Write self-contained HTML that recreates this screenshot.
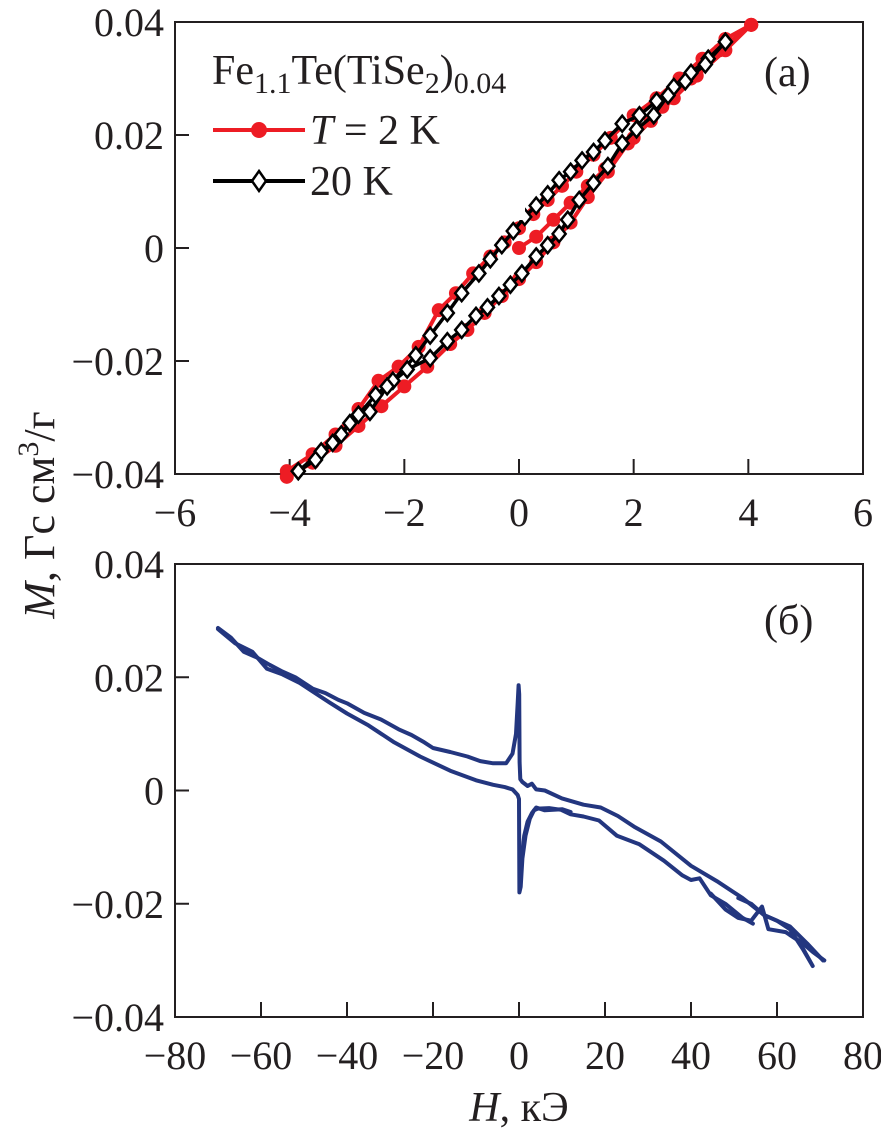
<!DOCTYPE html>
<html><head><meta charset="utf-8"><style>
html,body{margin:0;padding:0;background:#fff;}
svg{display:block;font-family:"Liberation Serif",serif;}
</style></head><body>
<svg id="chart" width="881" height="1132" viewBox="0 0 881 1132" xmlns="http://www.w3.org/2000/svg"></svg>
<script>
// ---- Panel (a) data ----
const aTicksX = [-6,-4,-2,0,2,4,6];
const aTicksY = [-0.04,-0.02,0,0.02,0.04];
const aTickLabelsY = ["\u22120.04","\u22120.02","0","0.02","0.04"];
const aTickLabelsX = ["\u22126","\u22124","\u22122","0","2","4","6"];
// 20 K descending branch (H from 4 to -4)
const h20Down = [3.6,3.3,3.0,2.7,2.4,2.1,1.8,1.5,1.3,1.1,0.9,0.7,0.5,0.3,0.1,-0.1,-0.3,-0.5,-0.7,-1.0,-1.25,-1.55,-1.8,-2.2,-2.5,-2.8,-3.1,-3.45,-3.85];
const m20Down = [0.0365,0.0335,0.031,0.0285,0.026,0.0235,0.022,0.019,0.017,0.0155,0.0135,0.012,0.0095,0.0075,0.0055,0.003,0.0005,-0.002,-0.0045,-0.008,-0.0115,-0.0155,-0.019,-0.0235,-0.026,-0.0295,-0.033,-0.036,-0.0395];
// 20 K ascending branch (H from -4 to 4)
const h20Up = [-3.85,-3.55,-3.25,-2.95,-2.6,-2.3,-1.95,-1.55,-1.25,-1.0,-0.75,-0.55,-0.35,-0.15,0.05,0.3,0.5,0.7,0.85,1.05,1.3,1.55,1.8,2.05,2.35,2.6,2.9,3.25,3.6];
const m20Up = [-0.0395,-0.0375,-0.0345,-0.031,-0.029,-0.0245,-0.0215,-0.0195,-0.0165,-0.0145,-0.012,-0.0105,-0.0085,-0.0065,-0.0045,-0.0015,0.0005,0.0025,0.005,0.0085,0.0115,0.0145,0.0185,0.021,0.0235,0.027,0.0295,0.0325,0.0365];
// 2 K
const h2Virgin = [0,0.3,0.6,0.9,1.2,1.5,2.0,2.5,3.0,3.5,4.05];
const m2Virgin = [0,0.002,0.005,0.008,0.011,0.014,0.0195,0.025,0.030,0.035,0.0395];
const h2Down = [4.05,3.6,3.2,2.8,2.4,2.0,1.6,1.3,1.0,0.75,0.5,0.25,0,-0.25,-0.5,-0.8,-1.1,-1.4,-1.75,-2.1,-2.45,-2.8,-3.2,-3.6,-4.05];
const m2Down = [0.0395,0.037,0.0335,0.030,0.0265,0.0235,0.0195,0.0165,0.0135,0.011,0.0085,0.006,0.0035,0.001,-0.0015,-0.0045,-0.008,-0.011,-0.0175,-0.021,-0.0235,-0.0285,-0.033,-0.0365,-0.0395];
const h2Up = [-4.05,-3.6,-3.2,-2.8,-2.4,-2.0,-1.6,-1.2,-0.9,-0.6,-0.3,0,0.3,0.6,0.9,1.2,1.55,1.9,2.3,2.7,3.1,3.6,4.05];
const m2Up = [-0.0405,-0.038,-0.035,-0.0315,-0.028,-0.0245,-0.021,-0.017,-0.0145,-0.0115,-0.0085,-0.0055,-0.0025,0.001,0.0045,0.009,0.0135,0.0185,0.0225,0.0265,0.0305,0.035,0.0395];

// ---- Panel (b) data ----
const bTicksX = [-80,-60,-40,-20,0,20,40,60,80];
const bTickLabelsX = ["\u221280","\u221260","\u221240","\u221220","0","20","40","60","80"];
const bTicksY = [-0.04,-0.02,0,0.02,0.04];
const bTickLabelsY = ["\u22120.04","\u22120.02","0","0.02","0.04"];
const bHA = [-70,-67,-64,-61,-58,-55,-52,-48,-45,-42,-40,-36,-32,-28,-25,-22,-20,-16,-12,-9,-6,-3,-1.5,-0.7,-0.3,-0.1,0.05,0.15,0.3,0.8,2,3,4,6,10,15,19,23,27,33,40,46,52,57,63,67,70.7];
const bMA = [0.0287,0.027,0.0245,0.0235,0.0222,0.021,0.020,0.018,0.0172,0.016,0.0154,0.0137,0.0125,0.0108,0.0098,0.0085,0.0075,0.0068,0.006,0.0052,0.0048,0.0048,0.0065,0.010,0.0155,0.0186,0.017,0.005,0.002,0.0015,0.0008,0.0012,0.0002,0,-0.0014,-0.0025,-0.003,-0.0045,-0.0065,-0.009,-0.0133,-0.016,-0.019,-0.022,-0.024,-0.027,-0.030];
const bHB = [-70,-66,-62,-58.6,-55,-51,-48,-44,-40,-35,-29,-23,-16,-10,-6,-3.3,-1.5,-0.3,0,0.1,0.4,0.8,1.5,2.5,3.5,4.4,7,9.8,12,15,18.6,22.8,28,33.7,38,40,42,44.6,48,52,54.4];
const bMB = [0.0285,0.026,0.0245,0.0215,0.0205,0.019,0.0175,0.0155,0.0136,0.0115,0.0085,0.006,0.0035,0.0018,0.001,0.0006,0.0002,-0.0008,-0.0015,-0.018,-0.017,-0.012,-0.008,-0.005,-0.0035,-0.0032,-0.0031,-0.0034,-0.0042,-0.0046,-0.0053,-0.008,-0.0095,-0.0124,-0.015,-0.0158,-0.0155,-0.0185,-0.020,-0.0225,-0.0235];
const bHC = [0.2,0.6,1.2,2,3,4,6,8,10,12];
const bMC = [-0.0145,-0.012,-0.008,-0.0055,-0.004,-0.003,-0.0035,-0.0034,-0.0033,-0.0038];
const bHD = [44.6,48,51,54,56.5,58,62,65,68.3,66,63,60,57,54,51];
const bMD = [-0.0182,-0.021,-0.0225,-0.023,-0.0205,-0.0245,-0.025,-0.0265,-0.031,-0.028,-0.0245,-0.023,-0.022,-0.020,-0.019];
const bHE = [63,66,68.3,71];
const bME = [-0.0255,-0.027,-0.0285,-0.030];

const NS = "http://www.w3.org/2000/svg";
const svg = document.getElementById('chart');
function mk(tag, attrs, parent){
  const e = document.createElementNS(NS, tag);
  for (const k in attrs) e.setAttribute(k, attrs[k]);
  (parent||svg).appendChild(e);
  return e;
}
const L = 175, R = 863;
const A = {top:22, bot:474, xmin:-6, xmax:6, ymin:-0.04, ymax:0.04};
const B = {top:564, bot:1017, xmin:-80, xmax:80, ymin:-0.04, ymax:0.04};
function sx(p, v){ return L + (v - p.xmin)/(p.xmax-p.xmin)*(R-L); }
function sy(p, v){ return p.bot - (v - p.ymin)/(p.ymax-p.ymin)*(p.bot-p.top); }

function drawAxes(p, tx, txl, ty, tyl, name){
  const g = mk('g', {});
  
  
  const frame = mk('rect', {x:L, y:p.top, width:R-L, height:p.bot-p.top, fill:'none', stroke:'#231f20', 'stroke-width':2}, g);
  
  
  tx.forEach((v,i)=>{
    const x = sx(p,v);
    const t = mk('line', {x1:x, x2:x, y1:p.bot, y2:p.bot-15, stroke:'#231f20', 'stroke-width':2}, g);
    
    
    const lb = mk('text', {x:x, y:p.bot+52, 'font-size':40, 'text-anchor':'middle', fill:'#231f20'}, g);
    lb.textContent = txl[i];
    
    
  });
  ty.forEach((v,i)=>{
    const y = sy(p,v);
    const t = mk('line', {x1:L, x2:L+14, y1:y, y2:y, stroke:'#231f20', 'stroke-width':2}, g);
    
    
    const lb = mk('text', {x:164, y:y+14, 'font-size':40, 'text-anchor':'end', fill:'#231f20'}, g);
    lb.textContent = tyl[i];
    
    
  });
}
function pts(p, hs, ms){ return hs.map((h,i)=> sx(p,h).toFixed(1)+','+sy(p,ms[i]).toFixed(1)).join(' '); }
function poly(p, hs, ms, color, w, name){
  const e = mk('polyline', {points:pts(p,hs,ms), fill:'none', stroke:color, 'stroke-width':w, 'stroke-linejoin':'round', 'stroke-linecap':'round'});
  
  
}
function circles(p, hs, ms, name){
  hs.forEach((h,i)=>{
    const c = mk('circle', {cx:sx(p,h), cy:sy(p,ms[i]), r:7, fill:'#ed1c24'});
    
    
  });
}
function diamonds(p, hs, ms, name){
  hs.forEach((h,i)=>{
    const x = sx(p,h), y = sy(p,ms[i]);
    const d = mk('polygon', {points:`${x},${y-8} ${x+6.5},${y} ${x},${y+8} ${x-6.5},${y}`, fill:'#fff', stroke:'#000', 'stroke-width':2.5});
    
    
  });
}
// Panel (a)
drawAxes(A, aTicksX, aTickLabelsX, aTicksY, aTickLabelsY, 'panel-a');
poly(A, h2Virgin, m2Virgin, '#ed1c24', 4, 'series-2k-virgin');
poly(A, h2Down, m2Down, '#ed1c24', 4, 'series-2k-down');
poly(A, h2Up, m2Up, '#ed1c24', 4, 'series-2k-up');
circles(A, h2Virgin, m2Virgin, 'point-2k');
circles(A, h2Down, m2Down, 'point-2k');
circles(A, h2Up, m2Up, 'point-2k');
poly(A, h20Down, m20Down, '#000', 3.5, 'series-20k-down');
poly(A, h20Up, m20Up, '#000', 3.5, 'series-20k-up');
diamonds(A, h20Down, m20Down, 'point-20k');
diamonds(A, h20Up, m20Up, 'point-20k');
// Panel (b)
drawAxes(B, bTicksX, bTickLabelsX, bTicksY, bTickLabelsY, 'panel-b');
const blue = '#23367f';
poly(B, bHA, bMA, blue, 4, 'series-b-branch-1');
poly(B, bHB, bMB, blue, 4, 'series-b-branch-2');
poly(B, bHC, bMC, blue, 4, 'series-b-branch-3');
poly(B, bHD, bMD, blue, 4, 'series-b-branch-4');
poly(B, bHE, bME, blue, 4, 'series-b-branch-5');
</script>
<svg width="881" height="1132" style="position:absolute;left:0;top:0;font-family:'Liberation Serif',serif;" xmlns="http://www.w3.org/2000/svg">
  <rect x="195" y="30" width="330" height="190" fill="#fff"/>
  <text x="212" y="84" font-size="42" fill="#231f20">Fe<tspan font-size="30" dy="9">1.1</tspan><tspan dy="-9">Te(TiSe</tspan><tspan font-size="30" dy="9">2</tspan><tspan dy="-9">)</tspan><tspan font-size="30" dy="9">0.04</tspan></text>
  <g>
    <line x1="213" y1="130" x2="305" y2="130" stroke="#ed1c24" stroke-width="4"/>
    <circle cx="259" cy="130" r="8" fill="#ed1c24"/>
    <text x="310" y="144" font-size="42" fill="#231f20"><tspan font-style="italic">T</tspan> = 2 K</text>
  </g>
  <g>
    <line x1="213" y1="181" x2="305" y2="181" stroke="#000" stroke-width="4"/>
    <polygon points="259,171 266,181 259,191 252,181" fill="#fff" stroke="#000" stroke-width="2.5"/>
    <text x="310" y="195" font-size="42" fill="#231f20">20 K</text>
  </g>
  <text x="764" y="86" font-size="42" fill="#231f20">(a)</text>
  <text x="764" y="634" font-size="42" fill="#231f20">(б)</text>
  <text transform="translate(54,515) rotate(-90)" text-anchor="middle" font-size="44" fill="#231f20"><tspan font-style="italic">M</tspan>, Гс см<tspan font-size="30" dy="-16">3</tspan><tspan dy="16">/г</tspan></text>
  <text x="519" y="1121" text-anchor="middle" font-size="42" fill="#231f20"><tspan font-style="italic">H</tspan>, кЭ</text>
</svg>
</body></html>
